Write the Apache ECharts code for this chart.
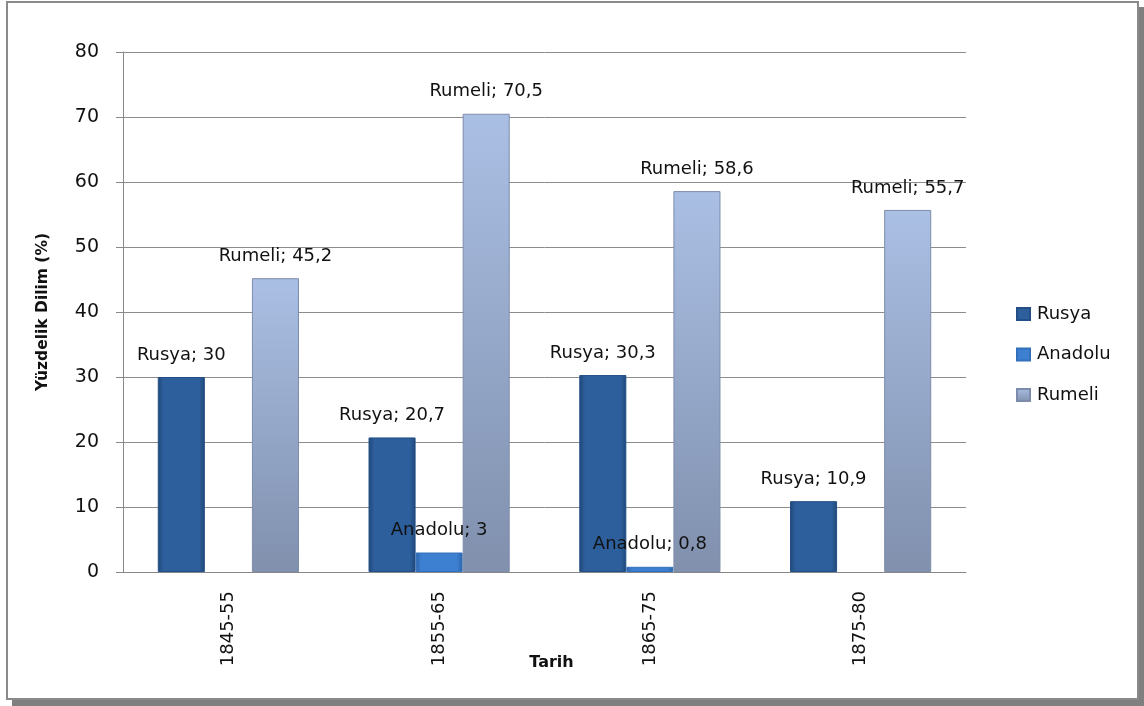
<!DOCTYPE html>
<html><head><meta charset="utf-8">
<script src="https://cdn.jsdelivr.net/npm/echarts@6/dist/echarts.min.js"></script>
<style>html,body{margin:0;padding:0;background:#fff}#c{width:1144px;height:706px}</style>
</head><body><div id="c"></div>
<script>
const categories = ['1845-55', '1855-65', '1865-75', '1875-80'];
const rusya = [30, 20.7, 30.3, 10.9];
const anadolu = [null, 3, 0.8, null];
const rumeli = [45.2, 70.5, 58.6, 55.7];
const yTicks = [0, 10, 20, 30, 40, 50, 60, 70, 80];

const FONT = '"DejaVu Sans", sans-serif';
function grad(edge, mid) {
  return new echarts.graphic.LinearGradient(0, 0, 1, 0, [
    {offset: 0, color: edge}, {offset: 0.12, color: mid}, {offset: 0.88, color: mid}, {offset: 1, color: edge}
  ]);
}
function vgrad(top, bottom) {
  return new echarts.graphic.LinearGradient(0, 0, 0, 1, [
    {offset: 0, color: top}, {offset: 1, color: bottom}
  ]);
}
const fmt = p => p.seriesName + '; ' + String(p.value).replace('.', ',');
const labelCfg = {show: true, position: 'top', distance: 13, formatter: fmt, color: '#111', fontSize: 18, fontFamily: FONT};

const chart = echarts.init(document.getElementById('c'));
chart.setOption({
  animation: false,
  graphic: [
    {type: 'rect', z: -20, shape: {x: 12, y: 7, width: 1132, height: 699}, style: {fill: '#7f7f7f'}},
    {type: 'rect', z: -19, shape: {x: 7, y: 2, width: 1131, height: 697}, style: {fill: '#fff', stroke: '#8a8a8a', lineWidth: 2}}
  ],
  grid: {left: 123, right: 178, top: 52, bottom: 134},
  legend: {
    orient: 'vertical', left: 1011, top: 300, itemGap: 22.5, itemWidth: 13, itemHeight: 12,
    icon: 'rect',
    textStyle: {fontSize: 18, fontFamily: FONT, color: '#111', padding: [0, 0, 0, 2]},
    data: ['Rusya', 'Anadolu', 'Rumeli']
  },
  xAxis: {
    type: 'category', data: categories,
    name: 'Tarih', nameLocation: 'middle', nameGap: 83, nameMoveOverlap: false,
    nameTextStyle: {fontSize: 16, fontWeight: 'bold', fontFamily: FONT, color: '#111', padding: [0, 0, 0, 14]},
    axisLine: {lineStyle: {color: '#888'}},
    axisTick: {length: 6, lineStyle: {color: '#888'}},
    axisLabel: {rotate: 90, margin: 19, fontSize: 18, fontFamily: FONT, color: '#111'}
  },
  yAxis: {
    type: 'value', min: 0, max: 80, interval: 10,
    name: 'Yüzdelik Dilim (%)', nameLocation: 'middle', nameGap: 72, nameRotate: 90,
    nameTextStyle: {fontSize: 15.5, fontWeight: 'bold', fontFamily: FONT, color: '#111'},
    axisLine: {show: true, lineStyle: {color: '#888'}},
    axisTick: {show: true, length: 7, lineStyle: {color: '#888'}},
    splitLine: {lineStyle: {color: '#8c8c8c'}},
    axisLabel: {margin: 24, fontSize: 19, fontFamily: FONT, color: '#111',
      formatter: v => yTicks.includes(v) ? String(v) : ''}
  },
  series: [
    {name: 'Rusya', type: 'bar', data: rusya, barGap: '0%', barCategoryGap: '33%',
     itemStyle: {color: grad('#1f4777', '#2d5f9c'), borderColor: '#234f86', borderWidth: 1},
     label: labelCfg},
    {name: 'Anadolu', type: 'bar', data: anadolu,
     itemStyle: {color: grad('#2c64aa', '#3d7fd0'), borderColor: '#3370bb', borderWidth: 1},
     label: labelCfg},
    {name: 'Rumeli', type: 'bar', data: rumeli,
     itemStyle: {color: vgrad('#aabfe4', '#8090ad'), borderColor: '#7e8cab', borderWidth: 1},
     label: labelCfg}
  ]
});
</script></body></html>
